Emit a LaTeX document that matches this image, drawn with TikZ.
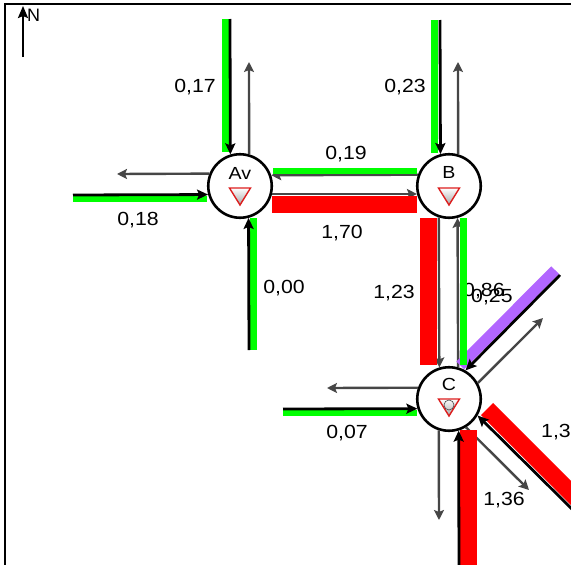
\documentclass[tikz,border=0pt]{standalone}
\usepackage{fontspec}
\setmainfont{Liberation Sans}
\newfontfamily\lblfont[FakeStretch=1.12]{Liberation Sans}
\usetikzlibrary{arrows.meta}

\definecolor{flowgreen}{RGB}{0,255,0}
\definecolor{flowred}{RGB}{255,0,0}
\definecolor{flowpurple}{RGB}{178,102,255}
\definecolor{outgray}{RGB}{70,70,70}
\definecolor{signred}{RGB}{220,30,30}

\tikzset{
  junction/.style={circle, draw=black, line width=2.6pt, fill=white,
    minimum size=63.5pt, inner sep=0pt},
  jname/.style={font=\lblfont\fontsize{17.5}{20}\selectfont, inner sep=0pt},
  vallbl/.style={font=\lblfont\fontsize{19}{22}\selectfont, inner sep=0pt},
  inflow/.style={draw=black, line width=2.8pt,
    -{Stealth[length=11pt,width=10pt,inset=2pt]}},
  outflow/.style={draw=outgray, line width=2.4pt,
    -{Stealth[length=10pt,width=10pt,inset=2pt]}},
  bar/.style={line cap=butt},
  yieldsign/.pic={
    \shadedraw[draw=signred, line width=1.4pt, top color=white,
      bottom color=black!35, line join=miter]
      (-10.5,0) -- (10.5,0) -- (0,17) -- cycle;
  }
}

\begin{document}
\begin{tikzpicture}[x=1pt,y=-1pt]
\useasboundingbox (0,0) rectangle (571,565);

% frame and north arrow
\draw[line width=2.5pt, line join=miter] (571,4) -- (5,4) -- (5,565);
\coordinate (Nbase) at (23,57);
\coordinate (Ntip) at (23,6);
\draw[line width=2.2pt, -{Stealth[length=12pt,width=10pt,inset=2pt]}] (Nbase) -- (Ntip);
\node[font=\fontsize{18}{20}\selectfont, inner sep=0pt, anchor=west] (Nlbl) at (27,15) {N};

% junctions
\node[junction] (Av) at (240,186) {};
\node[junction] (B) at (449,186) {};
\node[junction] (C) at (449,399) {};
\node[jname] (AvName) at (240,173) {Av};
\node[jname] (BName) at (449,172) {B};
\node[jname] (CName) at (449,384) {C};
\path (Av) ++(0,2) pic {yieldsign};
\path (B) ++(0,2) pic {yieldsign};
\path (C) ++(0,0) pic {yieldsign};
\draw[outgray, line width=0.6pt] (449,405) circle[radius=5];

% flow values
\node[vallbl] (vAvN) at (195,87) {0,17};
\node[vallbl] (vBN) at (405,87) {0,23};
\node[vallbl] (vAvW) at (138,220) {0,18};
\node[vallbl] (vAvBw) at (346,154) {0,19};
\node[vallbl] (vAvBe) at (342,233) {1,70};
\node[vallbl] (vAvS) at (284,288) {0,00};
\node[vallbl] (vBCs) at (394,293) {1,23};
\node[vallbl, anchor=west] (vBCn) at (463,291) {0,86};
\node[vallbl, anchor=west] (vCNE) at (471,297) {0,25};
\node[vallbl] (vCW) at (347,433) {0,07};
\node[vallbl] (vCS) at (504,500) {1,36};
\node[vallbl, anchor=west] (vCSE) at (541,432) {1,37};

% free ends of the approaches
\coordinate (AvNin) at (230,19);
\coordinate (AvNout) at (249,62);
\coordinate (AvWin) at (73,195);
\coordinate (AvWout) at (117,174);
\coordinate (AvSin) at (249,350);
\coordinate (BNin) at (440,20);
\coordinate (BNout) at (458,62);
\coordinate (CNEin) at (560,275);
\coordinate (CNEout) at (543,318);
\coordinate (CWin) at (283,409);
\coordinate (CWout) at (327,388);
\coordinate (CSin) at (459,570);
\coordinate (CSout) at (439,520);
\coordinate (CSEin) at (578,515);
\coordinate (CSEout) at (529,490);

% outgoing movements
\draw[outflow] (Av.74.2) -- (AvNout);
\draw[outflow] (Av.158.7) -- (AvWout);
\draw[outflow] (B.74.2) -- (BNout);
\draw[outflow] (C.29.2) -- (CNEout);
\draw[outflow] (C.160.5) -- (CWout);
\draw[outflow] (C.252.4) -- (CSout);
\draw[outflow] (C.301) -- (CSEout);
% links between junctions
\draw[outflow] (B.160.5) -- (Av.19.5);
\draw[outflow] (Av.346) -- (B.194);
\draw[outflow] (B.252.4) -- (C.107.6);
\draw[outflow] (C.74.2) -- (B.285.8);

% volume bars
\draw[bar, flowgreen, line width=7pt] (225.5,19) -- (225.5,152);
\draw[bar, flowgreen, line width=7pt] (434.5,20) -- (434.5,153);
\draw[bar, flowgreen, line width=6pt] (73,199) -- (207,199);
\draw[bar, flowgreen, line width=7pt] (253.5,218) -- (253.5,350);
\draw[bar, flowgreen, line width=6pt] (273,170.5) -- (417,170.5);
\draw[bar, flowred, line width=17pt] (272,204.5) -- (417,204.5);
\draw[bar, flowred, line width=17pt] (428.5,218) -- (428.5,365);
\draw[bar, flowpurple, line width=11pt] (460.3,365.4) -- (555.2,270.2);
\draw[bar, flowgreen, line width=7pt] (463.5,218) -- (463.5,365);
\draw[bar, flowgreen, line width=6pt] (283,412.5) -- (417,412.5);
\draw[bar, flowred, line width=17pt] (468.5,430) -- (468.5,570);
\draw[bar, flowred, line width=17pt] (487,409) -- (600,522);

% incoming movements
\draw[inflow] (AvNin) -- (Av.107.6);
\draw[inflow] (AvWin) -- (Av.195.8);
\draw[inflow] (AvSin) -- (Av.285.8);
\draw[inflow] (BNin) -- (B.105.8);
\draw[inflow] (CNEin) -- (C.60.8);
\draw[inflow] (CWin) -- (C.197.6);
\draw[inflow] (CSin) -- (C.287.6);
\draw[inflow] (CSEin) -- (C.330.8);
\end{tikzpicture}
\end{document}
